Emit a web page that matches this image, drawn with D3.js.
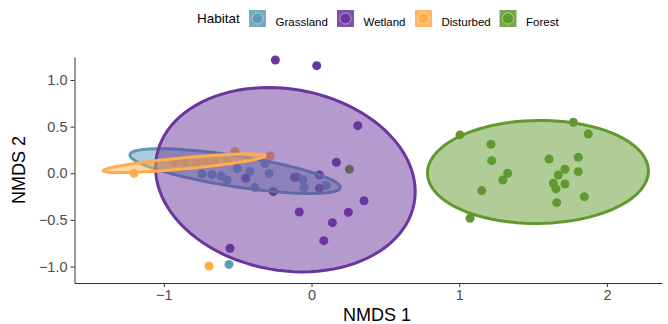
<!DOCTYPE html>
<html>
<head>
<meta charset="utf-8">
<script src="https://cdn.jsdelivr.net/npm/d3@7"></script>
<style>
  body { margin: 0; background: #fff; }
  text { font-family: "Liberation Sans", Arial, sans-serif; }
</style>
</head>
<body>
<div id="chart"></div>
<script>
// Habitats and colours
var habitats = ["Grassland", "Wetland", "Disturbed", "Forest"];
var colours = ["#5E9BB5", "#6A359C", "#FFAD4A", "#62992F"];

// NMDS site scores
var grasslandX = [-0.741, -0.674, -0.613, -0.572, -0.504, -0.416, -0.383, -0.315, -0.288, -0.098, -0.058, -0.051, 0.098, -0.559];
var grasslandY = [-0.008, -0.013, -0.029, -0.072, 0.051, 0.019, -0.152, 0.105, -0.002, -0.040, -0.072, -0.152, -0.131, -0.977];

var wetlandX = [-0.245, 0.035, 0.313, 0.168, 0.355, 0.249, 0.141, -0.083, 0.083, -0.552, 0.053, -0.259, -0.445, -0.116, 0.053];
var wetlandY = [1.214, 1.153, 0.510, 0.118, -0.294, -0.418, -0.529, -0.415, -0.722, -0.804, -0.018, -0.197, -0.054, -0.043, -0.161];

var disturbedX = [-1.202, -0.694, -0.924, -0.856, -0.782, -0.721, -0.660, -0.572, -0.518, -0.281];
var disturbedY = [0.000, -0.994, 0.114, 0.121, 0.110, 0.116, 0.121, 0.126, 0.232, 0.185];

var forestX = [1.005, 1.773, 1.874, 1.215, 1.220, 1.608, 1.806, 1.716, 1.671, 1.806, 1.328, 1.295, 1.152, 1.637, 1.716, 1.655, 1.847, 1.660, 1.073, 0.256];
var forestY = [0.411, 0.547, 0.421, 0.311, 0.135, 0.153, 0.171, 0.043, -0.018, 0.017, 0.000, -0.072, -0.186, -0.107, -0.115, -0.168, -0.251, -0.315, -0.482, 0.043];

// 95% ellipses per habitat: centre, half extents and correlation
var ellipseCx = [-0.518, -0.177, -0.862, 1.533];
var ellipseCy = [0.023, -0.069, 0.107, 0.014];
var ellipseSx = [0.712, 0.879, 0.548, 0.748];
var ellipseSy = [0.240, 0.988, 0.100, 0.552];
var ellipseR = [-0.72, -0.13, 0.80, 0.02];

var xTicks = [-1, 0, 1, 2];
var yTicks = [-1, -0.5, 0, 0.5, 1];

var width = 668, height = 324;
var margin = {top: 57, right: 6, bottom: 41, left: 74.5};

var svg = d3.select("#chart").append("svg")
    .attr("width", width)
    .attr("height", height);

var x = d3.scaleLinear().domain([-1.605, 2.373]).range([margin.left, width - margin.right]);
var y = d3.scaleLinear().domain([-1.176, 1.246]).range([height - margin.bottom, margin.top]);

// points (drawn under the ellipses)
var groups = [
  {xs: grasslandX, ys: grasslandY},
  {xs: wetlandX, ys: wetlandY},
  {xs: disturbedX, ys: disturbedY},
  {xs: forestX, ys: forestY}
];
var points = [];
groups.forEach(function(g, i) {
  g.xs.forEach(function(v, j) { points.push({x: v, y: g.ys[j], h: i}); });
});

svg.append("g")
  .selectAll("circle")
  .data(points)
  .enter()
  .append("circle")
    .attr("cx", function(d) { return x(d.x); })
    .attr("cy", function(d) { return y(d.y); })
    .attr("r", 4.5)
    .style("fill", function(d) { return colours[d.h]; });

// ellipses
var tSteps = d3.range(0, 101).map(function(i) { return i / 100 * 2 * Math.PI; });
var line = d3.line()
  .x(function(d) { return x(d[0]); })
  .y(function(d) { return y(d[1]); });

habitats.forEach(function(h, i) {
  var r = ellipseR[i];
  var pts = tSteps.map(function(t) {
    return [ellipseCx[i] + ellipseSx[i] * Math.cos(t),
            ellipseCy[i] + ellipseSy[i] * (r * Math.cos(t) + Math.sqrt(1 - r * r) * Math.sin(t))];
  });
  svg.append("path")
    .attr("d", line(pts) + "Z")
    .style("fill", colours[i])
    .style("fill-opacity", 0.5)
    .style("stroke", colours[i])
    .style("stroke-width", 3);
});

// axes
var xAxis = svg.append("g")
  .attr("transform", "translate(0," + (height - margin.bottom) + ")")
  .call(d3.axisBottom(x).tickValues(xTicks).tickFormat(d3.format("d")).tickSize(4).tickPadding(3).tickSizeOuter(0));
var yAxis = svg.append("g")
  .attr("transform", "translate(" + margin.left + ",0)")
  .call(d3.axisLeft(y).tickValues(yTicks).tickFormat(d3.format(".1f")).tickSize(4).tickPadding(3).tickSizeOuter(0));

[xAxis, yAxis].forEach(function(a) {
  a.select(".domain").attr("stroke", "#333").attr("stroke-width", 1);
  a.selectAll(".tick line").attr("stroke", "#333");
  a.selectAll(".tick text").attr("fill", "#4d4d4d").style("font-size", "14.5px");
});

svg.append("text")
  .attr("x", 377)
  .attr("y", 321)
  .attr("text-anchor", "middle")
  .style("font-size", "18px")
  .text("NMDS 1");

svg.append("text")
  .attr("transform", "translate(25," + ((margin.top + height - margin.bottom) / 2) + ") rotate(-90)")
  .attr("text-anchor", "middle")
  .style("font-size", "18px")
  .text("NMDS 2");

// legend
var legend = svg.append("g");
legend.append("text")
  .attr("x", 197).attr("y", 23)
  .style("font-size", "13.5px")
  .text("Habitat");

var keyX = [249, 337, 415, 499.5];
habitats.forEach(function(h, i) {
  var g = legend.append("g").attr("transform", "translate(" + keyX[i] + ",10)");
  g.append("rect")
    .attr("width", 17).attr("height", 17)
    .style("fill", colours[i]).style("fill-opacity", 0.85);
  g.append("circle")
    .attr("cx", 8.5).attr("cy", 8.5).attr("r", 5.5)
    .style("fill", colours[i])
    .style("stroke", "#fff").style("stroke-opacity", 0.45).style("stroke-width", 1);
  g.append("text")
    .attr("x", 26.5).attr("y", 12.8)
    .attr("dy", "0.3em")
    .style("font-size", "11.5px")
    .text(h);
});
</script>
</body>
</html>
